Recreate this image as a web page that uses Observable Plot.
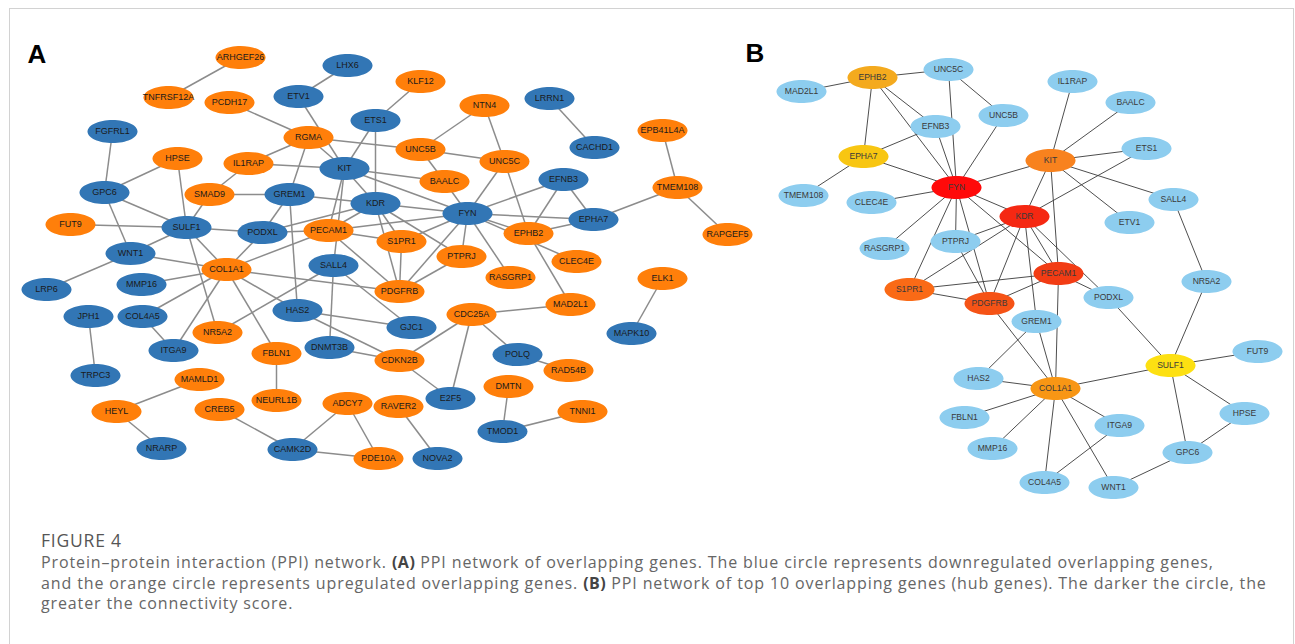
<!DOCTYPE html>
<html>
<head>
<meta charset="utf-8">
<script src="https://cdn.jsdelivr.net/npm/d3@7"></script>
<script src="https://cdn.jsdelivr.net/npm/@observablehq/plot@0.6"></script>
<style>
  html, body { margin: 0; padding: 0; background: #fff; }
  body { position: relative; width: 1295px; height: 644px; overflow: hidden; }
  #frame { position: absolute; left: 9px; top: 8px; width: 1285px; height: 700px;
           border: 1px solid #d2d2d2; border-bottom: none; box-sizing: border-box; }
  #chart { position: absolute; left: 0; top: 0; }
  #caption { position: absolute; left: 41px; top: 529px; font-family: "Open Sans", sans-serif; color: #666; }
  #caption .fig { font-size: 17.5px; line-height: 22px; color: #555; letter-spacing: 0.8px; }
  #caption .body { font-size: 16px; line-height: 20.5px; margin-top: 1px; white-space: nowrap; letter-spacing: 0.88px; }
  #caption b { color: #444; font-weight: 700; letter-spacing: 0.5px; }
</style>
</head>
<body>
<div id="frame"></div>
<div id="chart"></div>
<div id="caption">
  <div class="fig">FIGURE 4</div>
  <div class="body">Protein–protein interaction (PPI) network. <b>(A)</b> PPI network of overlapping genes. The blue circle represents downregulated overlapping genes,<br>and the orange circle represents upregulated overlapping genes. <b>(B)</b> PPI network of top 10 overlapping genes (hub genes). The darker the circle, the<br>greater the connectivity score.</div>
</div>
<script>
// ---- Panel A: all overlapping genes (layout positions in px) ----
const genesA = ["ARHGEF26","TNFRSF12A","LHX6","ETV1","PCDH17","KLF12","NTN4","LRRN1","ETS1","FGFRL1",
  "EPB41L4A","RGMA","CACHD1","UNC5B","HPSE","IL1RAP","UNC5C","KIT","BAALC","EFNB3",
  "TMEM108","GPC6","SMAD9","GREM1","KDR","FYN","EPHA7","FUT9","SULF1","PODXL",
  "PECAM1","EPHB2","RAPGEF5","S1PR1","PTPRJ","CLEC4E","WNT1","SALL4","COL1A1","RASGRP1",
  "ELK1","MMP16","LRP6","PDGFRB","MAD2L1","HAS2","CDC25A","JPH1","COL4A5","GJC1",
  "NR5A2","MAPK10","DNMT3B","ITGA9","FBLN1","POLQ","CDKN2B","RAD54B","TRPC3","MAMLD1",
  "DMTN","E2F5","NEURL1B","ADCY7","RAVER2","CREB5","HEYL","TNNI1","TMOD1","NRARP",
  "CAMK2D","PDE10A","NOVA2"];
const xA = [240,168,347,298,229,420,484,549,375,112,
  662,308,594,420,177,248,504,344,444,563,
  677,104,209,289,375,467,593,70,186,262,
  328,528,727,401,461,576,130,333,226,510,
  662,141,46,399,570,297,471,88,142,411,
  217,631,329,173,276,517,399,568,95,199,
  508,450,276,347,398,219,116,582,502,161,
  292,378,437];
const yA = [57,97,65,96,102,81,105,98,120,131,
  130,137,147,149,158,163,161,168,181,179,
  187,192,194,194,203,213,219,224,227,232,
  230,233,234,241,256,261,253,265,269,277,
  278,284,289,291,304,310,314,316,316,327,
  332,333,347,350,353,354,360,370,375,379,
  386,398,400,403,406,409,411,411,431,448,
  449,458,458];
const regulationA = ["up","up","down","down","up","up","up","down","down","down",
  "up","up","down","up","up","up","up","down","up","down",
  "up","down","up","down","down","down","down","up","down","down",
  "up","up","up","up","up","up","down","down","up","up",
  "up","down","down","up","up","down","up","down","down","down",
  "up","down","down","down","up","down","up","up","down","up",
  "up","down","up","up","up","up","up","up","down","down",
  "down","up","down"];
const edgesA = [
  ["ARHGEF26","TNFRSF12A"],["LHX6","ETV1"],["ETV1","KIT"],["PCDH17","RGMA"],["RGMA","IL1RAP"],
  ["RGMA","GREM1"],["RGMA","KIT"],["RGMA","UNC5B"],["KLF12","ETS1"],["ETS1","KIT"],
  ["ETS1","KDR"],["NTN4","UNC5B"],["NTN4","UNC5C"],["UNC5B","UNC5C"],["UNC5B","BAALC"],
  ["UNC5C","FYN"],["UNC5C","EPHB2"],["LRRN1","CACHD1"],["EPB41L4A","TMEM108"],["TMEM108","EPHA7"],
  ["TMEM108","RAPGEF5"],["FGFRL1","GPC6"],["HPSE","GPC6"],["HPSE","SULF1"],["IL1RAP","KIT"],
  ["IL1RAP","SMAD9"],["SMAD9","GREM1"],["SMAD9","SULF1"],["GREM1","PODXL"],["GREM1","KDR"],
  ["GREM1","HAS2"],["KIT","BAALC"],["KIT","FYN"],["KIT","KDR"],["KIT","PECAM1"],
  ["KIT","SALL4"],["BAALC","FYN"],["EFNB3","FYN"],["EFNB3","EPHB2"],["EFNB3","EPHA7"],
  ["EPHA7","EPHB2"],["EPHA7","FYN"],["KDR","FYN"],["KDR","S1PR1"],["KDR","PTPRJ"],
  ["KDR","PDGFRB"],["KDR","PECAM1"],["KDR","PODXL"],["FYN","EPHB2"],["FYN","CLEC4E"],
  ["FYN","RASGRP1"],["FYN","PTPRJ"],["FYN","PDGFRB"],["FYN","S1PR1"],["FYN","PECAM1"],
  ["EPHB2","MAD2L1"],["GPC6","SULF1"],["GPC6","WNT1"],["FUT9","SULF1"],["SULF1","PODXL"],
  ["SULF1","WNT1"],["SULF1","COL1A1"],["SULF1","NR5A2"],["PODXL","PECAM1"],["PODXL","COL1A1"],
  ["PECAM1","S1PR1"],["PECAM1","PDGFRB"],["PECAM1","COL1A1"],["S1PR1","PDGFRB"],["PTPRJ","PDGFRB"],
  ["WNT1","LRP6"],["WNT1","COL1A1"],["COL1A1","MMP16"],["COL1A1","COL4A5"],["COL1A1","ITGA9"],
  ["COL1A1","FBLN1"],["COL1A1","HAS2"],["COL1A1","PDGFRB"],["SALL4","NR5A2"],["SALL4","DNMT3B"],
  ["SALL4","GJC1"],["HAS2","GJC1"],["HAS2","CDKN2B"],["DNMT3B","CDKN2B"],["COL4A5","ITGA9"],
  ["JPH1","TRPC3"],["FBLN1","NEURL1B"],["MAMLD1","HEYL"],["HEYL","NRARP"],["CREB5","CAMK2D"],
  ["ADCY7","CAMK2D"],["ADCY7","PDE10A"],["CAMK2D","PDE10A"],["RAVER2","NOVA2"],["CDC25A","MAD2L1"],
  ["CDC25A","CDKN2B"],["CDC25A","E2F5"],["CDC25A","POLQ"],["CDKN2B","E2F5"],["POLQ","RAD54B"],
  ["DMTN","TMOD1"],["TMOD1","TNNI1"],["ELK1","MAPK10"]
];

// ---- Panel B: hub-gene subnetwork ----
const genesB = ["EPHB2","UNC5C","MAD2L1","IL1RAP","BAALC","UNC5B","EFNB3","ETS1","EPHA7","KIT",
  "FYN","TMEM108","CLEC4E","SALL4","KDR","ETV1","PTPRJ","RASGRP1","PECAM1","NR5A2",
  "S1PR1","PDGFRB","PODXL","GREM1","FUT9","SULF1","HAS2","COL1A1","FBLN1","HPSE",
  "ITGA9","MMP16","GPC6","COL4A5","WNT1"];
const xB = [872,948,801,1072,1130,1003,935,1146,863,1050,
  956,803,871,1173,1024,1129,955,884,1058,1206,
  909,989,1108,1036,1257,1170,978,1055,964,1244,
  1119,992,1187,1044,1113];
const yB = [77,69,91,81,102,115,126,148,156,160,
  187,195,202,199,216,222,241,248,273,281,
  289,303,297,321,351,365,378,388,417,413,
  425,448,452,482,487];
// top 10 hub genes, highest connectivity score first
const hubGenes = ["FYN","KDR","PECAM1","PDGFRB","S1PR1","KIT","COL1A1","EPHB2","EPHA7","SULF1"];
const edgesB = [
  ["MAD2L1","EPHB2"],["EPHB2","UNC5C"],["EPHB2","EPHA7"],["EPHB2","EFNB3"],["EPHB2","FYN"],
  ["UNC5C","UNC5B"],["UNC5C","FYN"],["UNC5B","FYN"],["EFNB3","FYN"],["EFNB3","EPHA7"],
  ["EPHA7","FYN"],["EPHA7","TMEM108"],["IL1RAP","KIT"],["BAALC","KIT"],["ETS1","KIT"],
  ["ETS1","KDR"],["KIT","FYN"],["KIT","KDR"],["KIT","SALL4"],["KIT","ETV1"],
  ["KIT","PECAM1"],["FYN","CLEC4E"],["FYN","RASGRP1"],["FYN","PTPRJ"],["FYN","KDR"],
  ["FYN","S1PR1"],["FYN","PDGFRB"],["FYN","PECAM1"],["KDR","PTPRJ"],["KDR","S1PR1"],
  ["KDR","PDGFRB"],["KDR","PECAM1"],["KDR","GREM1"],["KDR","PODXL"],["PTPRJ","PDGFRB"],
  ["S1PR1","PECAM1"],["S1PR1","PDGFRB"],["PDGFRB","PECAM1"],["PDGFRB","COL1A1"],["PECAM1","PODXL"],
  ["PECAM1","COL1A1"],["GREM1","COL1A1"],["GREM1","HAS2"],["HAS2","COL1A1"],["FBLN1","COL1A1"],
  ["MMP16","COL1A1"],["COL4A5","COL1A1"],["WNT1","COL1A1"],["ITGA9","COL1A1"],["ITGA9","COL4A5"],
  ["SULF1","COL1A1"],["SULF1","PODXL"],["SULF1","NR5A2"],["SULF1","FUT9"],["SULF1","HPSE"],
  ["SULF1","GPC6"],["HPSE","GPC6"],["GPC6","WNT1"],["NR5A2","SALL4"]
];

// ---- styling ----
const regulationColor = {down: "#3276b5", up: "#ff7f0a"};
const hubPalette = ["#ff0a0a","#f52812","#f23c14","#f55316","#fa6a16","#f8821e","#f89614","#f4aa1e","#f8c612","#fde012"];
const otherColor = "#8dcdef";

// ellipse-shaped node symbol (fixed size)
const ellipse = {
  draw(ctx) {
    const a = 25, b = 11.6, k = 0.5522847498, kx = a * k, ky = b * k;
    ctx.moveTo(a, 0);
    ctx.bezierCurveTo(a, ky, kx, b, 0, b);
    ctx.bezierCurveTo(-kx, b, -a, ky, -a, 0);
    ctx.bezierCurveTo(-a, -ky, -kx, -b, 0, -b);
    ctx.bezierCurveTo(kx, -b, a, -ky, a, 0);
    ctx.closePath();
  }
};

const nodesA = genesA.map((g, i) => ({gene: g, x: xA[i], y: yA[i], reg: regulationA[i]}));
const nodesB = genesB.map((g, i) => ({gene: g, x: xB[i], y: yB[i], rank: hubGenes.indexOf(g)}));
const idxA = new Map(nodesA.map(d => [d.gene, d]));
const idxB = new Map(nodesB.map(d => [d.gene, d]));
const linksA = edgesA.map(([s, t]) => ({s: idxA.get(s), t: idxA.get(t)}));
const linksB = edgesB.map(([s, t]) => ({s: idxB.get(s), t: idxB.get(t)}));

const fontFamily = "'Liberation Sans', Arial, sans-serif";

const chart = Plot.plot({
  width: 1295,
  height: 515,
  margin: 0,
  x: {type: "identity", axis: null},
  y: {type: "identity", axis: null},
  style: {background: "transparent", overflow: "visible"},
  marks: [
    // panel A
    Plot.link(linksA, {x1: d => d.s.x, y1: d => d.s.y, x2: d => d.t.x, y2: d => d.t.y,
      stroke: "#8c8c8c", strokeWidth: 1.5}),
    Plot.dot(nodesA, {x: "x", y: "y", symbol: ellipse, r: 10,
      fill: d => regulationColor[d.reg]}),
    Plot.text(nodesA, {x: "x", y: "y", text: "gene", fontSize: 9, fontFamily,
      fill: "#1a1a1a"}),
    // panel B
    Plot.link(linksB, {x1: d => d.s.x, y1: d => d.s.y, x2: d => d.t.x, y2: d => d.t.y,
      stroke: "#3a3a3a", strokeWidth: 0.9}),
    Plot.dot(nodesB, {x: "x", y: "y", symbol: ellipse, r: 10,
      fill: d => d.rank >= 0 ? hubPalette[d.rank] : otherColor}),
    Plot.text(nodesB, {x: "x", y: "y", text: "gene", fontSize: 8.6, fontFamily,
      fill: "#3a3a3a"}),
    // panel letters
    Plot.text(["A", "B"], {x: [27, 745], y: [62, 61], text: d => d, textAnchor: "start",
      lineAnchor: "bottom", fontSize: 26, fontWeight: "bold", fontFamily, fill: "#000"})
  ]
});
document.getElementById("chart").appendChild(chart);
</script>
</body>
</html>
